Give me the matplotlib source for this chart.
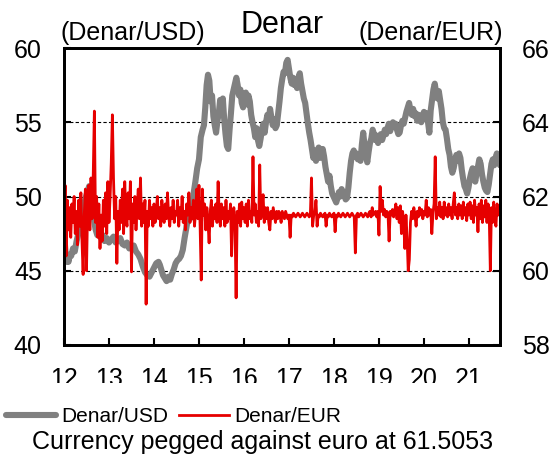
import numpy as np
import matplotlib
matplotlib.use("Agg")
from matplotlib import pyplot as plt
from matplotlib.patches import Rectangle

plt.rcParams['font.family'] = ['Liberation Sans', 'DejaVu Sans']

# Denar/USD (left axis), irregular sample points (year, value)
usd_t = [12.00, 12.02, 12.04, 12.06, 12.08, 12.10, 12.13, 12.16, 12.20, 12.24,
         12.28, 12.32, 12.36, 12.40, 12.44, 12.48, 12.52, 12.56, 12.60, 12.63,
         12.66, 12.70, 12.74, 12.78, 12.82, 12.86, 12.90, 12.95, 13.00, 13.05,
         13.10, 13.15, 13.20, 13.25, 13.30, 13.35, 13.40, 13.45, 13.50, 13.55,
         13.60, 13.65, 13.70, 13.75, 13.80, 13.85, 13.90, 13.95, 14.00, 14.05,
         14.10, 14.13, 14.17, 14.20, 14.24, 14.28, 14.32, 14.36, 14.40, 14.44,
         14.48, 14.52, 14.56, 14.60, 14.64, 14.68, 14.72, 14.76, 14.80, 14.84,
         14.88, 14.92, 14.96, 15.00, 15.04, 15.08, 15.11, 15.14, 15.17, 15.20,
         15.23, 15.26, 15.29, 15.32, 15.35, 15.38, 15.41, 15.44, 15.47, 15.50,
         15.53, 15.56, 15.59, 15.62, 15.65, 15.68, 15.71, 15.74, 15.77, 15.80,
         15.83, 15.86, 15.89, 15.92, 15.95, 15.98, 16.01, 16.04, 16.07, 16.10,
         16.13, 16.16, 16.19, 16.22, 16.25, 16.28, 16.31, 16.34, 16.37, 16.40,
         16.43, 16.46, 16.49, 16.52, 16.55, 16.58, 16.61, 16.64, 16.67, 16.70,
         16.73, 16.76, 16.79, 16.82, 16.85, 16.88, 16.91, 16.94, 16.97, 17.00,
         17.03, 17.06, 17.09, 17.12, 17.15, 17.18, 17.21, 17.24, 17.27, 17.30,
         17.33, 17.36, 17.39, 17.42, 17.45, 17.48, 17.51, 17.54, 17.57, 17.60,
         17.63, 17.66, 17.69, 17.72, 17.75, 17.78, 17.81, 17.84, 17.87, 17.90,
         17.93, 17.96, 17.99, 18.02, 18.05, 18.08, 18.11, 18.14, 18.17, 18.20,
         18.23, 18.26, 18.29, 18.32, 18.35, 18.38, 18.41, 18.44, 18.47, 18.50,
         18.53, 18.56, 18.59, 18.62, 18.65, 18.68, 18.71, 18.74, 18.77, 18.80,
         18.83, 18.86, 18.89, 18.92, 18.95, 18.98, 19.01, 19.04, 19.07, 19.10,
         19.13, 19.16, 19.19, 19.22, 19.25, 19.28, 19.31, 19.34, 19.37, 19.40,
         19.43, 19.46, 19.49, 19.52, 19.55, 19.58, 19.61, 19.64, 19.67, 19.70,
         19.73, 19.76, 19.79, 19.82, 19.85, 19.88, 19.91, 19.94, 19.97, 20.00,
         20.03, 20.06, 20.09, 20.12, 20.15, 20.18, 20.21, 20.24, 20.27, 20.30,
         20.33, 20.36, 20.39, 20.42, 20.45, 20.48, 20.51, 20.54, 20.57, 20.60,
         20.63, 20.66, 20.69, 20.72, 20.75, 20.78, 20.81, 20.84, 20.87, 20.90,
         20.93, 20.96, 20.99, 21.02, 21.05, 21.08, 21.11, 21.14, 21.17, 21.20,
         21.23, 21.26, 21.29, 21.32, 21.35, 21.38, 21.41, 21.44, 21.47, 21.50,
         21.53, 21.56, 21.59, 21.62, 21.65, 21.69]
usd = [47.8, 46.8, 46.0, 45.6, 45.9, 45.6, 46.1, 46.0, 46.5, 46.3,
       47.0, 47.5, 48.2, 48.8, 49.4, 49.9, 50.3, 50.7, 50.3, 49.5,
       48.6, 47.8, 47.4, 47.6, 47.2, 47.4, 47.0, 47.2, 46.9, 47.1,
       47.3, 46.9, 47.0, 47.2, 46.8, 46.7, 46.9, 46.5, 46.6, 46.7,
       46.3, 46.1, 45.8, 45.3, 44.9, 44.7, 44.6, 44.9, 45.2, 45.5,
       45.6, 45.4, 45.0, 44.7, 44.5, 44.3, 44.6, 44.4, 44.8, 45.1,
       45.5, 45.7, 45.8, 46.0, 46.4, 47.2, 47.9, 48.6, 48.5, 49.3,
       50.2, 51.0, 51.9, 52.5, 54.0, 54.5, 54.8, 56.0, 57.5, 58.2,
       57.8, 56.4, 56.8, 55.4, 54.8, 54.3, 55.1, 55.6, 56.5, 56.0,
       56.6, 55.2, 54.2, 53.4, 53.2, 54.5, 55.6, 56.8, 57.2, 57.6,
       58.0, 57.5, 56.8, 57.2, 56.3, 56.0, 56.6, 57.0, 56.2, 56.8,
       56.4, 55.5, 55.0, 54.6, 54.0, 54.6, 53.8, 53.4, 53.9, 54.5,
       54.9, 54.3, 55.0, 55.5, 55.2, 55.9, 55.3, 54.8, 55.2, 54.6,
       54.8, 55.6, 56.4, 57.3, 57.9, 58.4, 58.3, 59.0, 59.2, 58.6,
       58.0, 57.6, 58.0, 57.5, 57.8, 57.3, 58.0, 58.3, 57.6, 57.1,
       56.6, 56.3, 55.6, 54.9, 54.3, 53.8, 53.2, 52.6, 53.1, 52.4,
       52.9, 53.3, 52.6, 52.9, 53.2, 52.7, 52.0, 51.5, 51.0, 51.4,
       50.7, 50.2, 50.0, 49.8, 49.6, 49.9, 50.3, 50.0, 50.5, 50.3,
       50.1, 49.8, 49.9, 50.6, 51.6, 52.4, 52.9, 53.1, 52.7, 52.9,
       52.5, 52.8, 52.4, 53.5, 54.3, 53.4, 52.9, 52.3, 53.0, 53.6,
       53.9, 54.5, 54.2, 53.8, 54.1, 53.6, 53.9, 54.2, 53.8, 54.1,
       54.5, 54.2, 54.6, 54.9, 54.4, 54.8, 55.0, 54.7, 54.9, 54.5,
       54.2, 54.3, 54.8, 55.1, 54.9, 55.3, 55.7, 56.0, 56.3, 55.8,
       55.5, 55.9, 55.4, 55.6, 55.1, 55.5, 55.3, 55.0, 55.4, 55.7,
       55.2, 55.6, 55.0, 54.3, 55.8, 56.5, 57.2, 57.6, 57.0, 56.6,
       57.1, 56.5, 55.9, 55.0, 54.6, 54.5, 53.9, 53.2, 52.8, 52.0,
       51.6, 51.9, 52.4, 52.8, 52.4, 52.9, 52.6, 51.8, 51.2, 50.7,
       50.5, 50.2, 50.6, 51.2, 51.6, 51.9, 51.5, 51.0, 51.6, 52.0,
       52.5, 52.2, 51.5, 51.0, 50.6, 50.4, 50.3, 50.8, 51.5, 52.2,
       52.5, 52.1, 52.6, 52.9, 52.4, 52.1]

# Denar/EUR (right axis), sampled every 0.025 year from 2012.0
eur_start = 12.0
eur_step = 0.025
eur = [
    61.2, 62.3, 60.4, 61.9, 61.1, 61.7, 60.9, 61.8, 61.3, 62.0, 61.0, 61.6, 60.7, 61.9, 61.2, 62.1, 60.8, 59.9, 61.5, 62.2,
    60.0, 61.7, 62.3, 61.1, 62.5, 61.4, 62.6, 64.3, 61.3, 62.0, 60.9, 61.8, 60.6, 61.5, 60.8, 61.9, 61.2, 62.1, 61.0, 62.4,
    61.3, 62.0, 62.9, 64.2, 62.5, 61.4, 62.0, 60.2, 61.6, 61.1, 61.9, 61.3, 62.2, 61.0, 62.4, 61.5, 61.2, 62.1, 61.4, 62.4,
    59.97, 61.8, 61.3, 62.0, 61.1, 61.7, 62.2, 61.4, 62.5, 61.2, 61.8, 61.3, 61.9, 59.1, 61.6, 61.2, 61.9, 61.4, 61.7, 61.2,
    61.8, 61.3, 61.6, 62.0, 61.4, 61.7, 61.2, 61.9, 61.5, 61.3, 61.8, 61.4, 62.1, 61.5, 61.2, 61.7, 61.4, 61.9, 61.3, 61.6,
    61.5, 61.9, 61.2, 61.7, 61.4, 62.0, 61.3, 61.6, 61.1, 61.8, 61.5, 62.1, 61.3, 61.7, 61.4, 61.9, 61.2, 61.6, 62.2, 61.4,
    62.3, 61.2, 59.75, 62.2, 61.5, 61.8, 61.1, 61.7, 61.3, 60.75, 61.6, 61.9, 61.2, 61.7, 61.4, 61.8, 61.3, 62.4, 61.5, 61.2,
    61.8, 61.4, 61.7, 61.2, 61.9, 61.3, 61.6, 61.4, 61.8, 60.4, 61.5, 61.7, 61.3, 59.27, 61.6, 61.3, 61.8, 61.2, 61.85, 61.4,
    61.7, 61.3, 61.8, 61.2, 61.9, 61.4, 61.6, 61.3, 63.07, 61.5, 61.8, 61.3, 61.6, 61.2, 62.85, 61.4, 61.7, 62.05, 61.3, 61.7,
    61.4, 61.7, 61.3, 61.1, 61.6, 61.4, 61.7, 61.5, 61.3, 61.6, 61.4, 61.6, 61.5, 61.3, 61.6, 61.5, 61.4, 61.6, 61.5, 61.4,
    61.5, 60.9, 61.5, 61.45, 61.55, 61.5, 61.45, 61.5, 61.55, 61.5, 61.45, 61.5, 61.55, 61.5, 61.45, 61.5, 61.55, 61.5, 61.45, 61.5,
    62.5, 61.2, 61.5, 61.55, 61.9, 61.2, 61.5, 61.45, 61.55, 61.5, 61.45, 61.5, 61.55, 61.2, 61.5, 61.45, 61.55, 61.5, 61.45, 61.5,
    61.55, 61.05, 61.5, 61.45, 61.55, 61.5, 61.45, 61.5, 61.55, 61.5, 61.45, 61.5, 61.55, 61.5, 61.45, 61.5, 61.55, 61.5, 61.45, 60.48,
    61.5, 61.55, 61.45, 61.5, 61.55, 61.5, 61.45, 61.5, 61.55, 61.5, 61.45, 61.55, 61.6, 61.45, 61.7, 61.5, 61.55, 61.6, 61.45, 61.6,
    60.96, 62.27, 61.6, 61.9, 61.5, 61.65, 61.45, 61.6, 61.55, 60.8, 61.6, 61.5, 61.65, 61.45, 61.6, 61.8, 61.4, 61.7, 61.3, 61.75,
    61.0, 61.6, 61.3, 60.6, 61.5, 60.9, 60.0, 60.3, 61.3, 61.6, 61.4, 61.7, 61.5, 61.2, 61.6, 61.45, 61.7, 61.5, 61.65, 61.4,
    61.6, 61.5, 61.9, 61.45, 61.7, 61.5, 61.65, 61.0, 61.55, 61.8, 63.07, 61.4, 61.7, 61.5, 61.85, 61.45, 61.7, 61.4, 61.85, 61.5,
    61.7, 61.45, 61.8, 61.5, 61.7, 61.4, 61.8, 62.1, 61.5, 61.7, 61.4, 61.8, 61.5, 61.75, 61.4, 61.85, 61.5, 61.7, 61.35, 61.8,
    61.5, 61.85, 61.4, 61.75, 61.3, 61.9, 61.5, 61.7, 61.05, 61.8, 61.4, 61.9, 61.3, 61.75, 61.45, 61.9, 61.3, 61.8, 61.5, 60.0,
    61.7, 61.3, 61.85, 61.4, 61.2, 61.8, 61.5, 61.6]
eur_t = eur_start + eur_step * np.arange(len(eur))

year_ticks = [12, 13, 14, 15, 16, 17, 18, 19, 20, 21]

fig = plt.figure(figsize=(5.56, 4.57), dpi=100)
ax = fig.add_axes([64/556, 1-345/457, 436/556, 297/457])
ax2 = ax.twinx()

l1, = ax.plot(usd_t, usd, color='#808080', lw=4.4, solid_capstyle='round',
              solid_joinstyle='round', label='Denar/USD')
l2, = ax2.plot(eur_t, eur, color='#e60000', lw=2.0, label='Denar/EUR')

ax.set_xlim(12, 21.69)
ax.set_ylim(40, 60)
ax2.set_ylim(58, 66)
ax.set_yticks([40, 45, 50, 55, 60])
ax2.set_yticks([58, 60, 62, 64, 66])
ax.set_xticks(year_ticks)

for y in [45, 50, 55]:
    ax.axhline(y, color='black', lw=0.8, ls=(0, (3, 2)), zorder=0)

for a in (ax, ax2):
    for s in a.spines.values():
        s.set_linewidth(2)
    a.tick_params(direction='in', length=5, width=1.5, labelsize=18, pad=16)
ax.tick_params(axis='x', pad=16)

fig.text(60/556, 1-40/457, '(Denar/USD)', fontsize=18, ha='left', va='baseline')
fig.text(503/556, 1-40/457, '(Denar/EUR)', fontsize=18, ha='right', va='baseline')
fig.text(282/556, 1-33/457, 'Denar', fontsize=22, ha='center', va='baseline')

# cut off the bottom of the year labels like the original
fig.add_artist(Rectangle((0, 1-400/457), 1, 17/457, transform=fig.transFigure,
                         facecolor='white', edgecolor='none', zorder=10))

fig.legend([l1, l2], ['Denar/USD', 'Denar/EUR'], loc='upper left',
           bbox_to_anchor=(6/556, 1-407/457), ncol=2, frameon=False,
           fontsize=15, handlelength=2.4, handletextpad=0.25, columnspacing=0.5,
           borderpad=0, borderaxespad=0)
fig.text(263/556, 1-442/457, 'Currency pegged against euro at 61.5053',
         fontsize=18, ha='center', va='center')

fig.savefig('out.png', dpi=100)
